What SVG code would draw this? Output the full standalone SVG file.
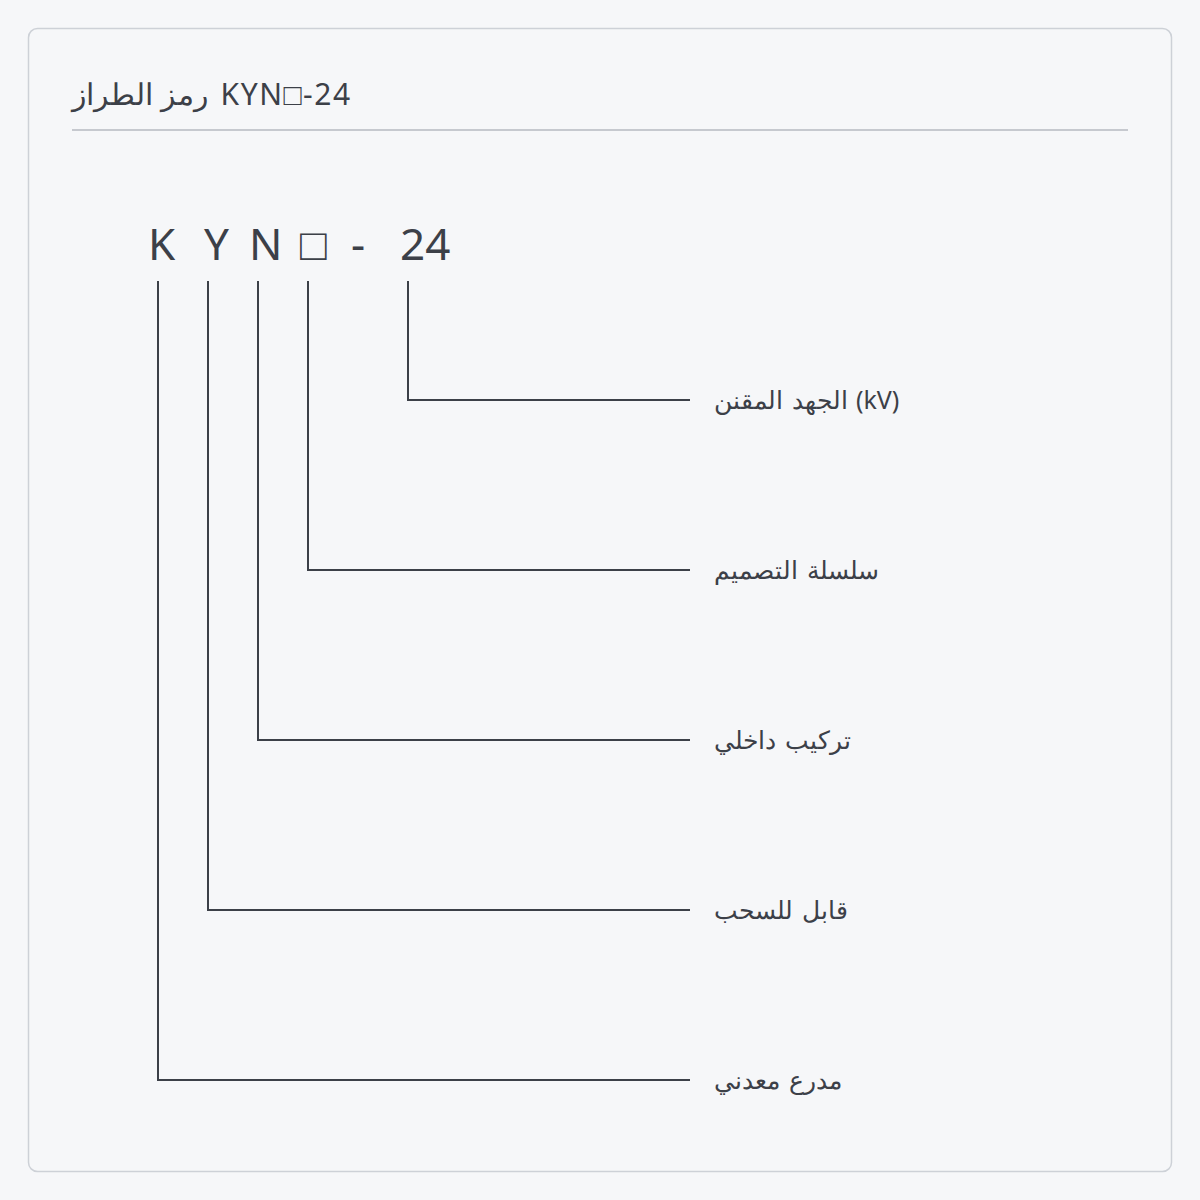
<svg xmlns="http://www.w3.org/2000/svg" width="1200" height="1200" viewBox="0 0 1200 1200">
<style>
.t{font-family:"Noto Sans","Liberation Sans",sans-serif;fill:#3c4048}
.code{font-size:44px}
.lbl{font-size:25px;word-spacing:2px}
.ln{fill:none;stroke:#3c4048;stroke-width:2}
</style>
<rect x="0" y="0" width="1200" height="1200" fill="#f6f7f9"/>
<rect id="frame" x="28.5" y="28.5" width="1143" height="1143" rx="9" fill="#f6f7f9" stroke="#cdd1d7" stroke-width="1.5"/>
<g id="title">
<text class="t" x="72" y="105" font-size="30">رمز الطراز<tspan word-spacing="5" letter-spacing="1.5"> KYN□-24</tspan></text>
<line x1="72" y1="130" x2="1128" y2="130" stroke="#c6c9cf" stroke-width="2"/>
</g>
<g id="code">
<text class="t code" x="148" y="260">K</text>
<text class="t code" x="204" y="260">Y</text>
<text class="t code" x="249" y="260">N</text>
<text class="t code" x="300" y="260">□</text>
<text class="t code" x="351" y="260">-</text>
<text class="t code" x="400" y="260">24</text>
</g>
<g id="connectors">
<polyline class="ln" points="408,281 408,400 690,400"/>
<polyline class="ln" points="308,281 308,570 690,570"/>
<polyline class="ln" points="258,281 258,740 690,740"/>
<polyline class="ln" points="208,281 208,910 690,910"/>
<polyline class="ln" points="158,281 158,1080 690,1080"/>
</g>
<g id="label-voltage"><text class="t lbl" x="714" y="409">الجهد المقنن (kV)</text></g>
<g id="label-series"><text class="t lbl" x="714" y="579">سلسلة التصميم</text></g>
<g id="label-indoor"><text class="t lbl" x="714" y="749">تركيب داخلي</text></g>
<g id="label-withdrawable"><text class="t lbl" x="714" y="919">قابل للسحب</text></g>
<g id="label-armored"><text class="t lbl" x="714" y="1089">مدرع معدني</text></g>
</svg>
